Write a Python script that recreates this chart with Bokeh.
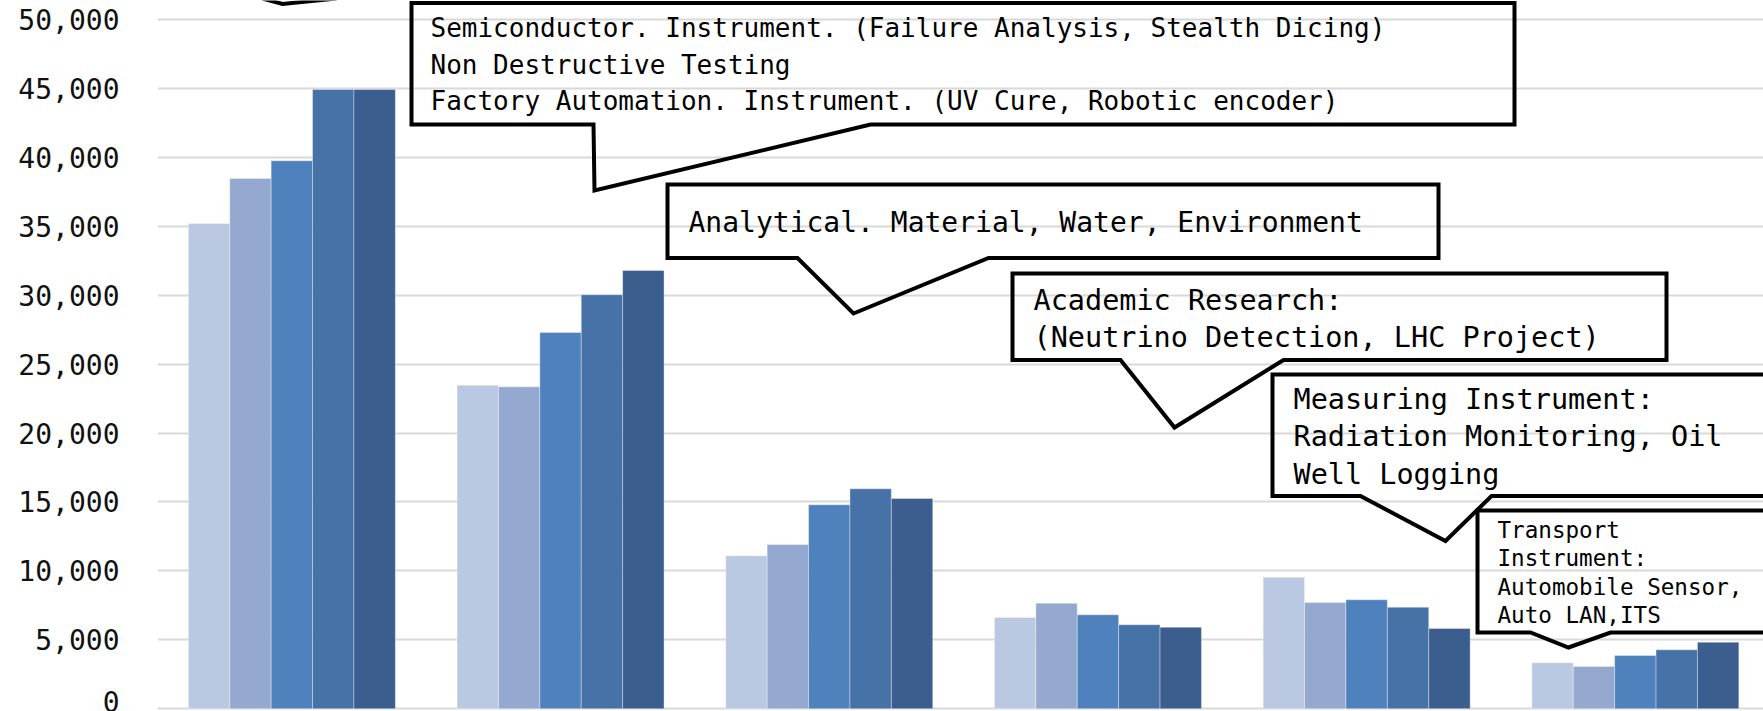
from bokeh.plotting import figure
from bokeh.models import Range1d, FixedTicker, NumeralTickFormatter, ColumnDataSource
from bokeh.core.properties import value
from bokeh.embed import file_html
from bokeh.resources import INLINE

# ---------------- data ----------------
categories = ["Group 1", "Group 2", "Group 3", "Group 4", "Group 5", "Group 6"]
series_1 = [35200, 23470, 11090, 6620, 9540, 3330]
series_2 = [38470, 23350, 11910, 7650, 7700, 3060]
series_3 = [39750, 27290, 14790, 6810, 7900, 3860]
series_4 = [44920, 30030, 15950, 6090, 7360, 4270]
series_5 = [44920, 31790, 15250, 5910, 5820, 4820]
y_ticks = [0, 5000, 10000, 15000, 20000, 25000, 30000, 35000, 40000, 45000, 50000]

callout_1 = ["Semiconductor. Instrument. (Failure Analysis, Stealth Dicing)",
             "Non Destructive Testing",
             "Factory Automation. Instrument. (UV Cure, Robotic  encoder)"]
callout_2 = ["Analytical. Material, Water, Environment"]
callout_3 = ["Academic Research:", "(Neutrino Detection, LHC Project)"]
callout_4 = ["Measuring Instrument:", "Radiation Monitoring, Oil", "Well Logging"]
callout_5 = ["Transport", "Instrument:", "Automobile Sensor,", "Auto LAN,ITS"]

# ---------------- styles / layout ----------------
colors = ["#BBC8E1", "#95A9D0", "#4F81BD", "#4672A7", "#3B5E8F"]
MONO = "DejaVu Sans Mono"
W, H = 1763, 711
BORDER_L = 157
CAT_PX = 268.7
ZERO_PX = 708.2
PX_PER_UNIT = (ZERO_PX - 19) / 50000.0


def px_x(xp):
    return (xp - BORDER_L) / CAT_PX


def px_y(yp):
    return (ZERO_PX - yp) / PX_PER_UNIT


p = figure(width=W, height=H, output_backend="svg", toolbar_location=None,
           x_axis_location=None,
           x_range=Range1d(0, px_x(W)), y_range=Range1d(px_y(H), px_y(0)),
           min_border_left=BORDER_L, min_border_right=0, min_border_top=0,
           min_border_bottom=0)
p.outline_line_color = None
p.background_fill_color = "white"
p.border_fill_color = "white"

p.xgrid.visible = False
p.ygrid.grid_line_color = "#D9D9D9"
p.ygrid.grid_line_width = 2
p.ygrid.ticker = FixedTicker(ticks=y_ticks)

ax = p.yaxis[0]
ax.ticker = FixedTicker(ticks=y_ticks)
ax.formatter = NumeralTickFormatter(format="0,0")
ax.axis_line_color = None
ax.major_tick_line_color = None
ax.minor_tick_line_color = None
ax.major_tick_out = 0
ax.major_tick_in = 0
ax.major_label_standoff = 38
ax.major_label_text_font = MONO
ax.major_label_text_font_size = "28px"
ax.major_label_text_color = "#111111"

# ---------------- bars ----------------
bar_w = 41.4 / CAT_PX
all_series = [series_1, series_2, series_3, series_4, series_5]
for j, (vals, col) in enumerate(zip(all_series, colors)):
    xs = [i + 0.5 + (j - 2) * bar_w for i in range(len(categories))]
    src = ColumnDataSource(dict(x=xs, top=vals, cat=categories))
    p.vbar(x="x", top="top", bottom=0, width=bar_w, source=src,
           fill_color=col, line_color="white", line_alpha=0.35, line_width=1)

# ---------------- callouts ----------------
shapes = [
    [(411, 2.5), (1514, 2.5), (1514, 124), (870, 124), (594, 190), (593, 124), (411, 124)],
    [(667, 184), (1438, 184), (1438, 257.5), (988, 257.5), (853, 313), (797, 257.5), (667, 257.5)],
    [(1012, 273), (1666, 273), (1666, 359.5), (1283, 359.5), (1174, 427), (1120, 359.5), (1012, 359.5)],
    [(1272, 374), (1820, 374), (1820, 495.5), (1491, 495.5), (1445, 540.5), (1360, 495.5), (1272, 495.5)],
    [(1477, 510), (1820, 510), (1820, 632), (1610, 632), (1568, 647), (1530, 632), (1477, 632)],
]
for pts in shapes:
    p.patch([px_x(a) for a, b in pts], [px_y(b) for a, b in pts],
            fill_alpha=0, line_color="black", line_width=4, line_join="miter")

# pointer of a callout lying above the visible area (top left)
p.line([px_x(a) for a in (262, 282, 336)], [px_y(b) for b in (-2, 3.5, -2)],
       line_color="black", line_width=4, line_join="miter")

text_blocks = [
    (callout_1, 430, [27.5, 64, 100], "26px"),
    (callout_2, 688, [222], "28px"),
    (callout_3, 1033, [299.5, 336.5], "28.5px"),
    (callout_4, 1293, [398.5, 435.5, 474], "28.5px"),
    (callout_5, 1497, [529, 557, 586, 614.5], "22.6px"),
]
for lines, xp, baselines, size in text_blocks:
    p.text(x=[px_x(xp)] * len(lines), y=[px_y(b) for b in baselines], text=lines,
           text_font=value(MONO), text_font_size=value(size), text_color="black",
           text_baseline="alphabetic", text_align="left")

open("out.html", "w").write(file_html(p, INLINE))
